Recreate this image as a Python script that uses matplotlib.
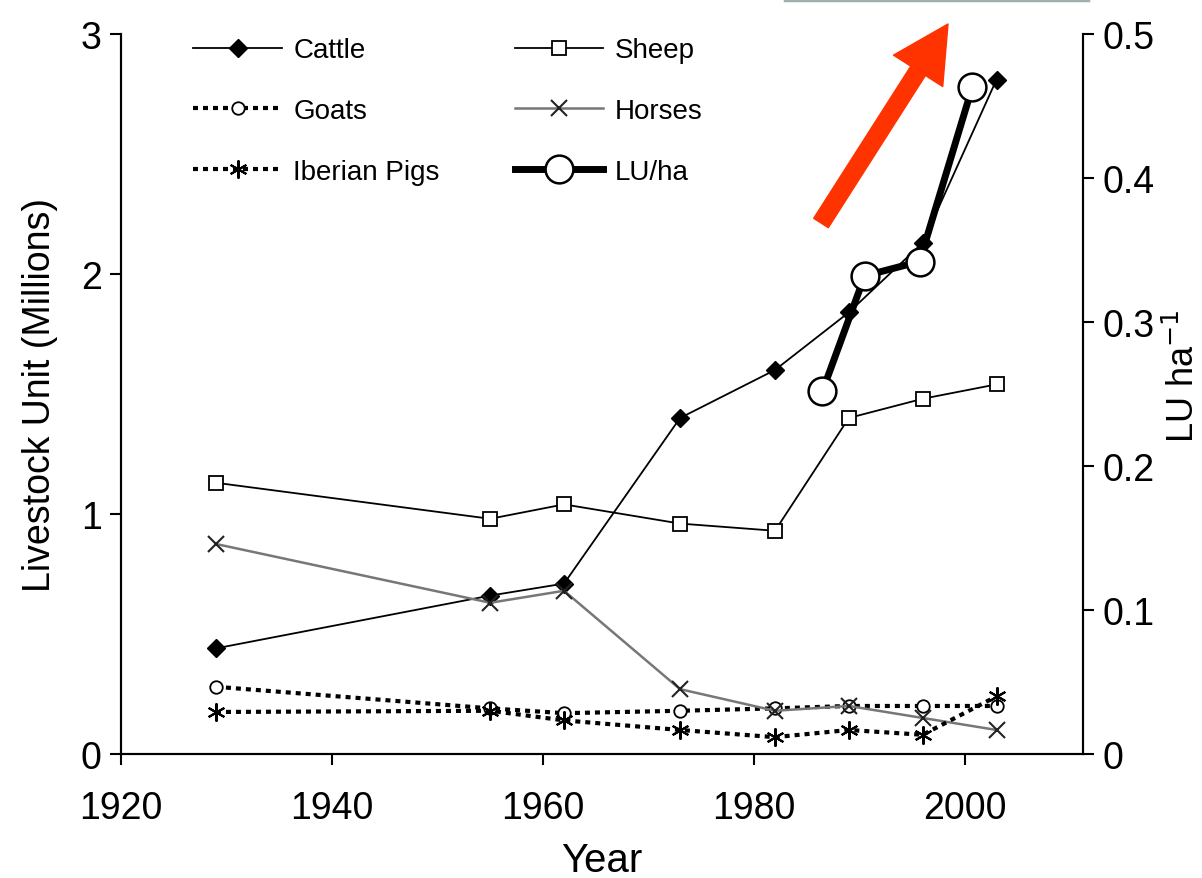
import numpy as np
import matplotlib.pyplot as plt
from matplotlib.lines import Line2D
from matplotlib.ticker import FuncFormatter

# --- data ---
years = [1929, 1955, 1962, 1973, 1982, 1989, 1996, 2003]
cattle = [0.44, 0.66, 0.71, 1.40, 1.60, 1.84, 2.13, 2.81]
sheep = [1.13, 0.98, 1.04, 0.96, 0.93, 1.40, 1.48, 1.54]
goats = [0.28, 0.19, 0.17, 0.18, 0.19, 0.20, 0.20, 0.20]
horses = [0.875, 0.63, 0.68, 0.27, 0.18, 0.20, 0.15, 0.10]
pigs = [0.175, 0.18, 0.14, 0.10, 0.07, 0.10, 0.08, 0.24]

lu_years = [1986.5, 1990.5, 1995.7, 2000.7]
lu_ha = [0.252, 0.332, 0.342, 0.463]

plt.rcParams['font.family'] = ['Liberation Sans', 'DejaVu Sans']

fig = plt.figure(figsize=(12.02, 8.79), dpi=100)
ax = fig.add_axes([0.1007, 0.1411, 0.8003, 0.8191])
ax2 = ax.twinx()

h_cattle, = ax.plot(years, cattle, color='black', lw=1.3, marker='D', ms=9,
                    mfc='black', mec='black', label='Cattle')
h_sheep, = ax.plot(years, sheep, color='black', lw=1.3, marker='s', ms=10,
                   mfc='white', mec='black', mew=1.3, label='Sheep')
h_goats, = ax.plot(years, goats, color='black', lw=3, ls=(0, (1.2, 1.2)),
                   marker='o', ms=9, mfc='white', mec='black', mew=1.3, label='Goats')
h_horses, = ax.plot(years, horses, color='#777777', lw=1.8, marker='x', ms=11,
                    mec='#222222', mew=1.5, label='Horses')
h_pigs, = ax.plot(years, pigs, color='black', lw=3, ls=(0, (1.2, 1.2)),
                  marker=(6, 2, 0), ms=13, mec='black', mew=1.5, label='Iberian Pigs')
h_lu, = ax2.plot(lu_years, lu_ha, color='black', lw=5, marker='o', ms=20,
                 mfc='white', mec='black', mew=1.8, label='LU/ha')

ax.set_xlim(1920, 2011.2)
ax.set_ylim(0, 3)
ax2.set_ylim(0, 0.5)
ax.set_xticks([1920, 1940, 1960, 1980, 2000])
ax.set_yticks([0, 1, 2, 3])
ax2.set_yticks([0, 0.1, 0.2, 0.3, 0.4, 0.5])
ax2.yaxis.set_major_formatter(FuncFormatter(lambda v, p: '0' if v == 0 else f'{v:.1f}'))

for a in (ax, ax2):
    a.spines['top'].set_visible(False)
    for s in a.spines.values():
        s.set_linewidth(1.5)
    a.tick_params(direction='out', length=8, width=1.5, pad=6, labelsize=27)
ax.tick_params(axis='x', pad=18)

ax.set_xlabel('Year', fontsize=29, labelpad=11)
ax.set_ylabel('Livestock Unit (Millions)', fontsize=27, labelpad=16)
ax2.set_ylabel('LU ha$^{-1}$', fontsize=26, labelpad=8)
ax2.yaxis.label.set_y(0.526)

handles = [h_cattle, h_goats, h_pigs, h_sheep, h_horses, h_lu]
ax.legend(handles=handles, ncol=2, frameon=False, loc='upper left',
          bbox_to_anchor=(0.049, 1.03), fontsize=20, handlelength=3.2,
          handletextpad=0.4, columnspacing=2.7, labelspacing=1.25, numpoints=1)

# red arrow (pixel positions converted to figure fraction)
W, H = 1202.0, 879.0
ax.annotate('', xy=(948 / W, 1 - 25 / H), xycoords='figure fraction',
            xytext=(821 / W, 1 - 224 / H), textcoords='figure fraction',
            arrowprops=dict(arrowstyle='simple,head_length=4.0,head_width=4.2,tail_width=1.25',
                            color='#ff3300', mutation_scale=10, shrinkA=0, shrinkB=0))

# thin grey strip at the very top edge
fig.add_artist(Line2D([785 / W, 1088 / W], [1 - 1 / H, 1 - 1 / H],
                      transform=fig.transFigure, color='#9fb0b0', lw=2.5))

fig.savefig('out.png', dpi=100)
